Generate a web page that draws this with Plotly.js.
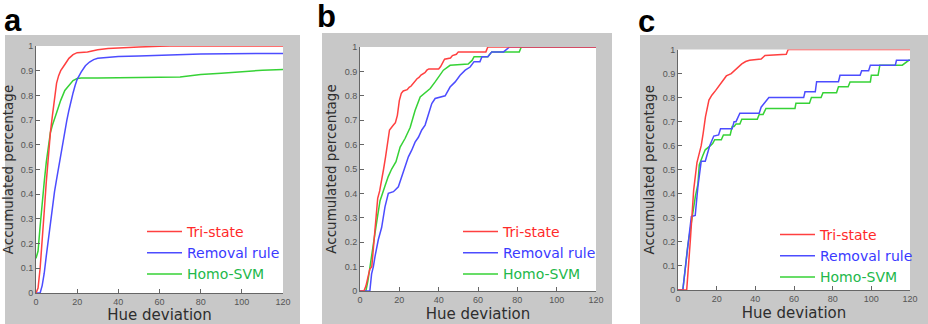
<!DOCTYPE html>
<html>
<head>
<meta charset="utf-8">
<script src="https://cdn.plot.ly/plotly-3.0.1.min.js"></script>
<style>html,body{margin:0;padding:0;background:#fff;}#chart{width:928px;height:324px;}</style>
</head>
<body>
<div id="chart"></div>
<script>
// ---- Panel a ----
const aTriX = [0,1,2,3,4,5,6,7,8,9,10,11,12,14,16,18,20,25,30,35,40,50,60,65,120];
const aTriY = [0,0.02,0.1,0.2,0.33,0.45,0.56,0.65,0.72,0.79,0.85,0.88,0.9,0.925,0.95,0.965,0.973,0.976,0.985,0.99,0.993,0.996,0.999,1,1];
const aRemX = [0,2,3,4,5,6,7,8,9,10,11,12,13,14,15,16,17,18,19,20,22,24,26,28,30,35,40,50,60,70,80,120];
const aRemY = [0,0,0.03,0.08,0.15,0.22,0.29,0.35,0.41,0.46,0.51,0.56,0.61,0.66,0.7,0.74,0.78,0.81,0.84,0.865,0.895,0.92,0.935,0.945,0.95,0.955,0.957,0.96,0.963,0.967,0.968,0.97];
const aHomoX = [0,1,2,3,4,5,6,7,8,9,10,12,14,16,18,20,22,30,50,65,70,75,80,90,100,110,120];
const aHomoY = [0.14,0.17,0.27,0.37,0.45,0.53,0.6,0.65,0.68,0.71,0.73,0.78,0.82,0.84,0.86,0.868,0.87,0.87,0.872,0.873,0.875,0.88,0.885,0.89,0.897,0.902,0.905];

// ---- Panel b ----
const bTriX = [0,2,3,4,5,6,7,8,9,10,11,12,13,14,15,17,18,19,20,21,22,24,25,26,28,29,30,31,33,34,35,40,41,42,43,46,47,49,50,64,65,120];
const bTriY = [0,0,0.02,0.05,0.09,0.1,0.2,0.3,0.38,0.41,0.45,0.5,0.55,0.6,0.66,0.68,0.69,0.72,0.78,0.81,0.82,0.825,0.835,0.84,0.86,0.87,0.875,0.885,0.895,0.905,0.91,0.91,0.92,0.935,0.95,0.955,0.965,0.97,0.98,0.98,1,1];
const bRemX = [0,5,5.9,6.8,7.6,9.3,11,12.7,14.4,17,19.5,21.2,22.9,24.6,26.3,28,29.7,31.4,33.1,34.8,36.5,38.2,40.7,43.3,45.8,48.4,50.9,53.5,56,58,61,62,65,67,73,76,120];
const bRemY = [0,0,0.07,0.1,0.14,0.21,0.26,0.345,0.4,0.407,0.427,0.468,0.516,0.55,0.577,0.61,0.63,0.66,0.68,0.727,0.768,0.789,0.795,0.8,0.836,0.857,0.884,0.905,0.918,0.94,0.94,0.96,0.96,0.98,0.98,1,1];
const bHomoX = [0,3,4,5,6,7.6,9,10.2,12.7,14.4,16.1,18.3,20.4,22.9,25.5,28,30.6,33,35.7,38.2,40.7,42.4,45.8,55,57,58,65,67,81,82,120];
const bHomoY = [0,0,0.04,0.1,0.15,0.236,0.31,0.37,0.43,0.47,0.5,0.53,0.59,0.625,0.67,0.74,0.795,0.81,0.83,0.857,0.884,0.905,0.925,0.93,0.945,0.96,0.96,0.98,0.98,1,1];

// ---- Panel c ----
const cTriX = [0,4.5,6.4,8.1,9.8,12,13,14.2,16,17.5,19.5,22.5,25,27.5,30,33,35,37,43,45,56,57,120];
const cTriY = [0,0,0.208,0.415,0.53,0.6,0.65,0.72,0.79,0.81,0.83,0.865,0.89,0.9,0.92,0.94,0.95,0.955,0.96,0.975,0.98,1,1];
const cRemX = [0,2.5,5.2,6.9,8.9,10.3,12,14.1,16.4,18.5,21,22,28,29,30,31,32,42,43,44,45,47,65,65.7,71,71.7,83,83.8,94.2,95,98.6,99.5,112.4,113,120];
const cRemY = [0,0,0.19,0.305,0.31,0.43,0.535,0.535,0.6,0.64,0.645,0.67,0.67,0.7,0.7,0.72,0.735,0.735,0.76,0.77,0.78,0.8,0.8,0.824,0.824,0.866,0.866,0.893,0.893,0.912,0.912,0.935,0.935,0.955,0.955];
const cHomoX = [0,2.5,5,7.7,9,10.3,11,12.9,14.1,16.8,18,19,22.4,23.5,27,28,29,30,32,33,41,42,44,45.5,60.5,61,68,69,74,75,82,83,88,89,99.5,100,103.5,104.4,116,119.4,120];
const cHomoY = [0,0,0.18,0.33,0.39,0.44,0.52,0.56,0.583,0.6,0.61,0.625,0.625,0.645,0.645,0.68,0.68,0.69,0.69,0.71,0.71,0.73,0.73,0.755,0.755,0.776,0.776,0.8,0.8,0.82,0.82,0.845,0.845,0.865,0.865,0.893,0.893,0.935,0.935,0.955,0.955];

const seriesNames = ['Tri-state', 'Removal rule', 'Homo-SVM'];
const xTickVals = [0,20,40,60,80,100,120];
const yTickVals = [0,0.1,0.2,0.3,0.4,0.5,0.6,0.7,0.8,0.9,1];
const yTickText = ['0','0.1','0.2','0.3','0.4','0.5','0.6','0.7','0.8','0.9','1'];
const panelLabels = ['a','b','c'];
const xTitle = 'Hue deviation';
const yTitle = 'Accumulated percentage';

const lineColors = ['#ff4040', '#4c4cff', '#36d236'];
const textColors = ['#ff2a2a', '#3a3aff', '#22b84a'];

const panels = [
  {tri:[aTriX,aTriY], rem:[aRemX,aRemY], homo:[aHomoX,aHomoY]},
  {tri:[bTriX,bTriY], rem:[bRemX,bRemY], homo:[bHomoX,bHomoY]},
  {tri:[cTriX,cTriY], rem:[cRemX,cRemY], homo:[cHomoX,cHomoY]}
];

const W = 928, H = 324;
// pixel boxes: [left, right, top, bottom]
const plotBox = [[36,283,46,293],[360,596,47,291],[678,910,49.5,290]];
const frameBox = [[5,300,35,324],[322,612,33,324],[640,928,35,324]];
const legendPos = [[142,216],[458,216],[775,219]];
const labelPos = [[2,1],[315,-3],[636,2]];

const traces = [];
const layout = {
  width: W, height: H,
  margin: {l:0, r:0, t:0, b:0},
  paper_bgcolor: '#ffffff',
  plot_bgcolor: 'rgba(0,0,0,0)',
  showlegend: true,
  font: {family: 'DejaVu Sans, Verdana, sans-serif', color: '#333'},
  shapes: [], annotations: []
};

panels.forEach((p, i) => {
  const sfx = i === 0 ? '' : String(i + 1);
  const xa = 'x' + sfx, ya = 'y' + sfx;
  const lg = 'legend' + sfx;
  const keys = ['tri','rem','homo'];
  // draw order: homo, rem, tri (tri on top), legend order tri, rem, homo
  [2,1,0].forEach(k => {
    const d = p[keys[k]];
    traces.push({
      type: 'scatter', mode: 'lines',
      x: d[0], y: d[1], xaxis: xa, yaxis: ya,
      name: '<span style="color:' + textColors[k] + '">' + seriesNames[k] + '</span>',
      legend: lg, legendrank: k + 1,
      line: {color: lineColors[k], width: 1.5},
      hoverinfo: 'skip'
    });
  });
  const pb = plotBox[i];
  const fb = frameBox[i];
  layout['xaxis' + sfx] = {
    domain: [pb[0]/W, pb[1]/W], anchor: ya,
    range: [0,120], tickvals: xTickVals, ticks: 'inside', ticklen: 4, tickcolor: '#666',
    showline: true, linecolor: '#666', linewidth: 1, showgrid: false, zeroline: false,
    tickfont: {family: 'Liberation Sans Narrow, Liberation Sans, Arial, sans-serif', size: 9, color: '#555'},
    title: {text: xTitle, font: {family: 'DejaVu Sans, Verdana, sans-serif', size: 15, color: '#2e2e2e'}, standoff: 0},
    fixedrange: true
  };
  layout['yaxis' + sfx] = {
    domain: [(H-pb[3])/H, (H-pb[2])/H], anchor: xa,
    range: [0,1], tickvals: yTickVals, ticktext: yTickText, ticks: 'inside', ticklen: 4, tickcolor: '#666',
    showline: true, linecolor: '#666', linewidth: 1, showgrid: false, zeroline: false,
    tickfont: {family: 'Liberation Sans Narrow, Liberation Sans, Arial, sans-serif', size: 9, color: '#555'},
    title: {text: yTitle, font: {family: 'DejaVu Sans, Verdana, sans-serif', size: 13.5, color: '#2e2e2e'}, standoff: 4},
    fixedrange: true
  };
  layout[lg] = {
    x: legendPos[i][0]/W, y: (H-legendPos[i][1])/H, xanchor: 'left', yanchor: 'top',
    bgcolor: 'rgba(0,0,0,0)', borderwidth: 0,
    font: {family: 'DejaVu Sans, Verdana, sans-serif', size: 14},
    traceorder: 'normal', itemwidth: 35, itemclick: false, itemdoubleclick: false
  };
  // gray figure frame and white axes area
  layout.shapes.push({type:'rect', xref:'paper', yref:'paper', layer:'below',
    x0: fb[0]/W, x1: fb[1]/W, y0: (H-fb[3])/H, y1: (H-fb[2])/H,
    fillcolor:'#c8c8c8', line:{width:0}});
  layout.shapes.push({type:'rect', xref: xa + ' domain', yref: ya + ' domain', layer:'below',
    x0: 0, x1: 1, y0: 0, y1: 1, fillcolor:'#ffffff', line:{width:0}});
  layout.annotations.push({
    text: '<b>' + panelLabels[i] + '</b>', xref:'paper', yref:'paper',
    x: labelPos[i][0]/W, y: (H-labelPos[i][1])/H, xanchor:'left', yanchor:'top',
    showarrow:false, font:{family:'Liberation Sans, Arial, sans-serif', size:31, color:'#000'}
  });
});

Plotly.newPlot('chart', traces, layout, {displayModeBar: false, staticPlot: true});
</script>
</body>
</html>
